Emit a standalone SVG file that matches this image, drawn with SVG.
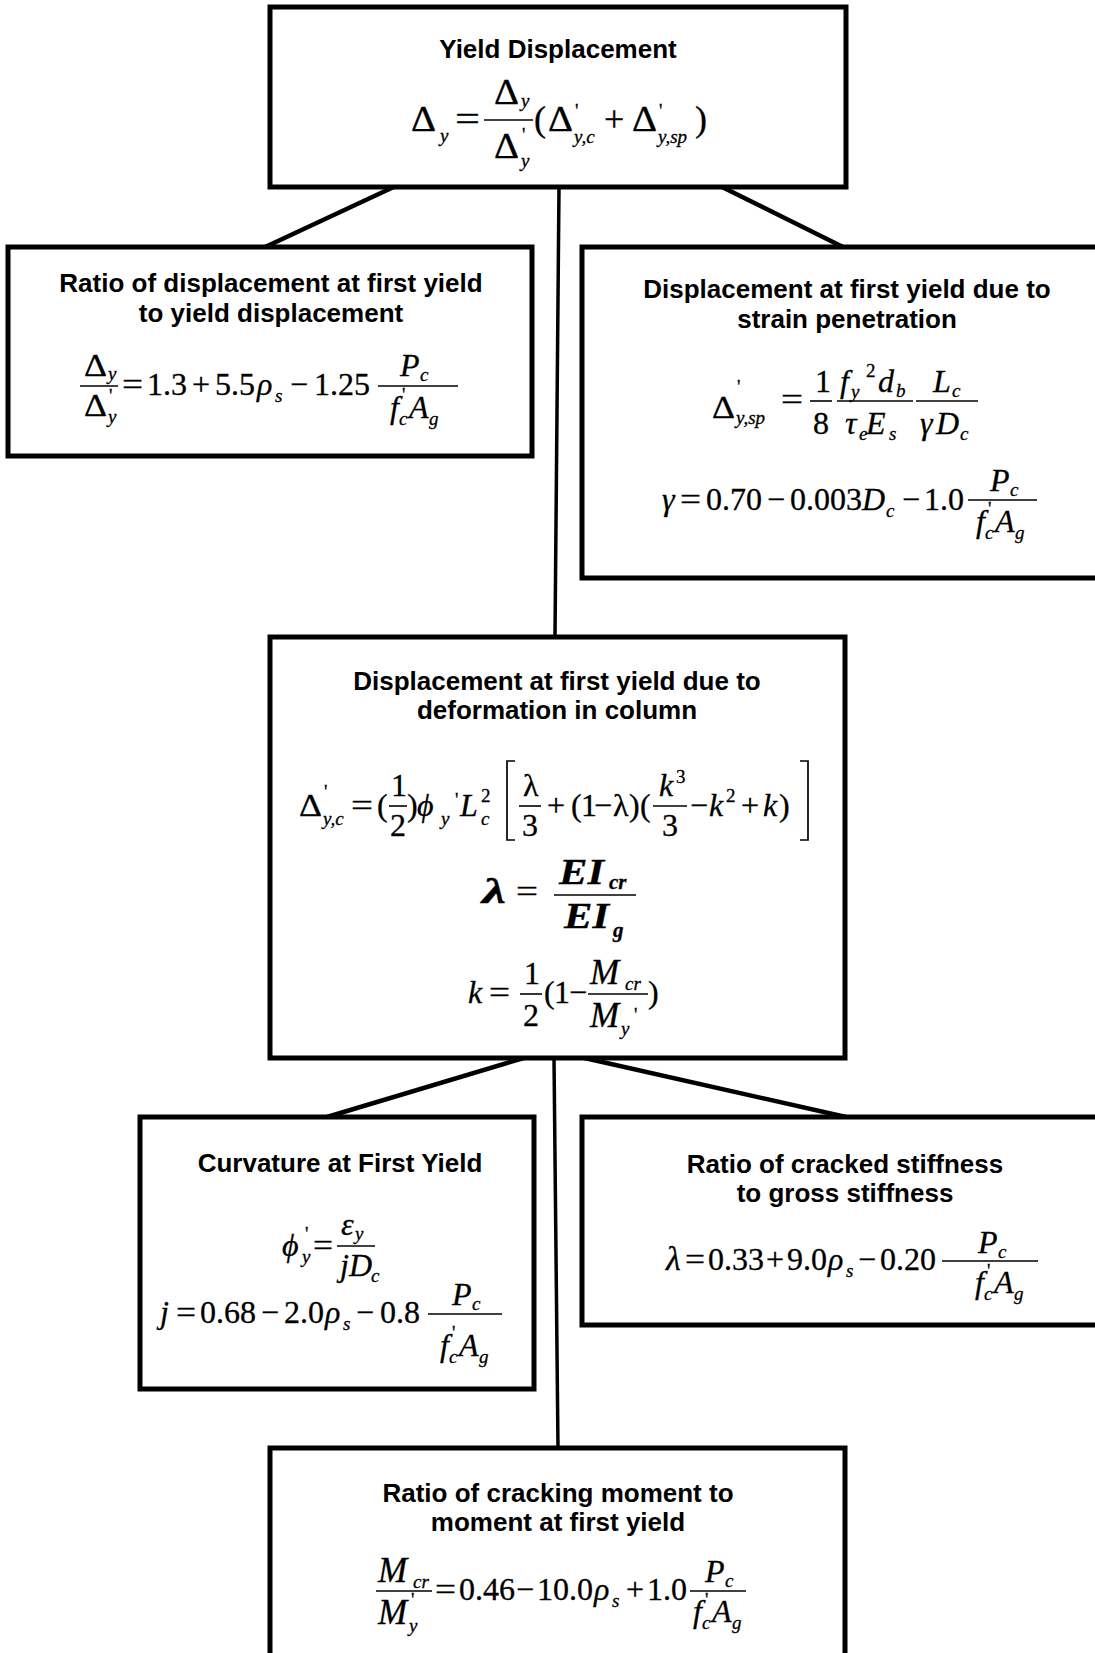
<svg xmlns="http://www.w3.org/2000/svg" width="1095" height="1653" viewBox="0 0 1095 1653">
<style>
.box{fill:#fff;stroke:#000;stroke-width:5}
.conn line{stroke:#000;stroke-width:4.5;stroke-linecap:butt}
.t{font-family:"Liberation Sans",Arial,sans-serif;font-weight:bold;font-size:26px;text-anchor:middle;fill:#000}
.m,.mi,.mb,.s,.sb,.su{font-family:"Liberation Serif","Times New Roman",serif;fill:#000;stroke:#000;stroke-width:0.3}
.m{font-size:32px}
.mi{font-size:32px;font-style:italic}
.mb{font-size:36px;font-style:italic;font-weight:bold}
.s{font-size:19px;font-style:italic}
.sb{font-size:21px;font-style:italic;font-weight:bold}
.su{font-size:19px}
.L{font-size:36px}
.M{font-size:35px}
.bar{stroke:#000;stroke-width:1.6}
.brk{fill:none;stroke:#000;stroke-width:1.7}
</style>
<rect width="1095" height="1653" fill="#fff"/>
<g id="connectors" class="conn">
<line x1="398" y1="185" x2="263" y2="248"/>
<line x1="559" y1="187" x2="555" y2="637" style="stroke-width:3.5"/>
<line x1="716" y1="184" x2="843" y2="247"/>
<line x1="527" y1="1057" x2="327" y2="1117"/>
<line x1="580" y1="1057" x2="846" y2="1117"/>
<line x1="554" y1="1058" x2="558" y2="1448" style="stroke-width:3.5"/>
</g>
<g id="n-yield-displacement">
<rect class="box" x="270" y="7" width="576" height="180"/>
<text class="t" x="558" y="58">Yield Displacement</text>
<text class="m L" x="411" y="131" textLength="25" lengthAdjust="spacingAndGlyphs">Δ</text><text class="s" x="440" y="142">y</text>
<text class="m L" x="455" y="131" textLength="25" lengthAdjust="spacingAndGlyphs">=</text>
<line class="bar" x1="484" y1="120" x2="533" y2="120"/>
<text class="m L" x="494" y="104" textLength="25" lengthAdjust="spacingAndGlyphs">Δ</text><text class="s" x="521" y="107">y</text>
<text class="m L" x="494" y="158" textLength="25" lengthAdjust="spacingAndGlyphs">Δ</text><text class="su" x="522" y="141">'</text><text class="s" x="521" y="167">y</text>
<text class="m L" x="534" y="131">(</text>
<text class="m L" x="548" y="131" textLength="25" lengthAdjust="spacingAndGlyphs">Δ</text><text class="su" x="575" y="117">'</text><text class="s" x="574" y="143">y,c</text>
<text class="m L" x="604" y="131">+</text>
<text class="m L" x="632" y="131" textLength="25" lengthAdjust="spacingAndGlyphs">Δ</text><text class="su" x="659" y="117">'</text><text class="s" x="658" y="143">y,sp</text>
<text class="m L" x="695" y="131">)</text>
</g>
<g id="n-ratio-displacement">
<rect class="box" x="8" y="247" width="524" height="209"/>
<text class="t" x="271" y="292">Ratio of displacement at first yield</text>
<text class="t" x="271" y="322">to yield displacement</text>
<line class="bar" x1="80" y1="386" x2="118" y2="386"/>
<text class="m" x="84" y="376" textLength="23" lengthAdjust="spacingAndGlyphs">Δ</text><text class="s" x="108" y="380">y</text>
<text class="m" x="84" y="416" textLength="23" lengthAdjust="spacingAndGlyphs">Δ</text><text class="su" x="109" y="402">'</text><text class="s" x="108" y="423">y</text>
<text class="m" x="122" y="395" textLength="21" lengthAdjust="spacingAndGlyphs">=</text>
<text class="m" x="147" y="395">1.3</text>
<text class="m" x="192" y="395">+</text>
<text class="m" x="215" y="395">5.5</text>
<text class="mi" x="257" y="395">ρ</text><text class="s" x="275" y="402">s</text>
<text class="m" x="290" y="395">−</text>
<text class="m" x="314" y="395">1.25</text>
<line class="bar" x1="378" y1="386" x2="458" y2="386"/>
<text class="mi" x="400" y="376">P</text><text class="s" x="420" y="381">c</text>
<text class="mi" x="390" y="418">f</text><text class="su" x="402" y="401">'</text><text class="s" x="399" y="425">c</text><text class="mi" x="409" y="418">A</text><text class="s" x="429" y="425">g</text>
</g>
<g id="n-strain-penetration">
<rect class="box" x="582" y="247" width="540" height="331"/>
<text class="t" x="847" y="298">Displacement at first yield due to</text>
<text class="t" x="847" y="328">strain penetration</text>
<text class="m" x="712" y="418" textLength="23" lengthAdjust="spacingAndGlyphs">Δ</text><text class="su" x="737" y="393">'</text><text class="s" x="736" y="424">y,sp</text>
<text class="m" x="781" y="410" textLength="22" lengthAdjust="spacingAndGlyphs">=</text>
<line class="bar" x1="810" y1="401" x2="832" y2="401"/>
<text class="m" x="815" y="392">1</text>
<text class="m" x="813" y="434">8</text>
<line class="bar" x1="837" y1="401" x2="913" y2="401"/>
<text class="mi" x="840" y="392">f</text><text class="s" x="851" y="398">y</text><text class="su" x="866" y="377">2</text><text class="mi" x="878" y="392">d</text><text class="s" x="896" y="397">b</text>
<text class="mi" x="845" y="434">τ</text><text class="s" x="859" y="440">e</text><text class="mi" x="866" y="434">E</text><text class="s" x="889" y="440">s</text>
<line class="bar" x1="916" y1="401" x2="978" y2="401"/>
<text class="mi" x="933" y="392">L</text><text class="s" x="952" y="397">c</text>
<text class="mi" x="920" y="434">γ</text><text class="mi" x="936" y="434">D</text><text class="s" x="960" y="440">c</text>
<text class="mi" x="662" y="510">γ</text>
<text class="m" x="680" y="510" textLength="21" lengthAdjust="spacingAndGlyphs">=</text>
<text class="m" x="706" y="510">0.70</text>
<text class="m" x="767" y="510">−</text>
<text class="m" x="790" y="510">0.003</text>
<text class="mi" x="862" y="510">D</text><text class="s" x="886" y="517">c</text>
<text class="m" x="902" y="510">−</text>
<text class="m" x="924" y="510">1.0</text>
<line class="bar" x1="968" y1="500" x2="1037" y2="500"/>
<text class="mi" x="990" y="491">P</text><text class="s" x="1010" y="496">c</text>
<text class="mi" x="976" y="532">f</text><text class="su" x="988" y="515">'</text><text class="s" x="985" y="539">c</text><text class="mi" x="995" y="532">A</text><text class="s" x="1015" y="539">g</text>
</g>
<g id="n-deformation-column">
<rect class="box" x="270" y="637" width="575" height="421"/>
<text class="t" x="557" y="690">Displacement at first yield due to</text>
<text class="t" x="557" y="719">deformation in column</text>
<text class="m" x="299" y="816" textLength="23" lengthAdjust="spacingAndGlyphs">Δ</text><text class="su" x="324" y="798">'</text><text class="s" x="323" y="825">y,c</text>
<text class="m" x="351" y="816" textLength="22" lengthAdjust="spacingAndGlyphs">=</text>
<text class="m" x="377" y="816">(</text>
<line class="bar" x1="389" y1="806" x2="407" y2="806"/>
<text class="m" x="391" y="796">1</text>
<text class="m" x="390" y="836">2</text>
<text class="m" x="407" y="816">)</text>
<text class="mi" x="417" y="816">ϕ</text><text class="s" x="441" y="825">y</text>
<text class="su" x="455" y="806">'</text>
<text class="mi" x="460" y="816">L</text><text class="su" x="481" y="802">2</text><text class="s" x="481" y="825">c</text>
<path class="brk" d="M515 761 H507 V840 H515"/>
<line class="bar" x1="519" y1="806" x2="541" y2="806"/>
<text class="m" x="523" y="796">λ</text>
<text class="m" x="522" y="836">3</text>
<text class="m" x="547" y="816">+</text>
<text class="m" x="571" y="816">(</text>
<text class="m" x="581" y="816">1</text>
<text class="m" x="594" y="816">−</text>
<text class="m" x="613" y="816">λ</text>
<text class="m" x="629" y="816">)</text>
<text class="m" x="640" y="816">(</text>
<line class="bar" x1="653" y1="806" x2="687" y2="806"/>
<text class="mi" x="659" y="796">k</text><text class="su" x="676" y="783">3</text>
<text class="m" x="662" y="836">3</text>
<text class="m" x="690" y="816">−</text>
<text class="mi" x="709" y="816">k</text><text class="su" x="726" y="802">2</text>
<text class="m" x="741" y="816">+</text>
<text class="mi" x="763" y="816">k</text>
<text class="m" x="779" y="816">)</text>
<path class="brk" d="M800 761 H808 V840 H800"/>
<text class="mb" x="482" y="903" textLength="24" lengthAdjust="spacingAndGlyphs">λ</text>
<text class="m" x="516" y="902" textLength="22" lengthAdjust="spacingAndGlyphs">=</text>
<line class="bar" x1="554" y1="895" x2="636" y2="895"/>
<text class="mb" x="559" y="884" textLength="45" lengthAdjust="spacingAndGlyphs">EI</text><text class="sb" x="609" y="889">cr</text>
<text class="mb" x="564" y="928" textLength="45" lengthAdjust="spacingAndGlyphs">EI</text><text class="sb" x="613" y="937">g</text>
<text class="mi" x="468" y="1003">k</text>
<text class="m" x="489" y="1003" textLength="21" lengthAdjust="spacingAndGlyphs">=</text>
<line class="bar" x1="520" y1="994" x2="542" y2="994"/>
<text class="m" x="524" y="984">1</text>
<text class="m" x="523" y="1026">2</text>
<text class="m" x="544" y="1003">(</text>
<text class="m" x="554" y="1003">1</text>
<text class="m" x="569" y="1003">−</text>
<line class="bar" x1="588" y1="994" x2="648" y2="994"/>
<text class="mi M" x="590" y="984">M</text><text class="s" x="625" y="990">cr</text>
<text class="mi M" x="590" y="1027">M</text><text class="s" x="621" y="1035">y</text><text class="su" x="634" y="1021">'</text>
<text class="m" x="648" y="1003">)</text>
</g>
<g id="n-curvature">
<rect class="box" x="140" y="1117" width="394" height="272"/>
<text class="t" x="340" y="1172">Curvature at First Yield</text>
<text class="mi" x="282" y="1256">ϕ</text><text class="su" x="305" y="1240">'</text><text class="s" x="302" y="1263">y</text>
<text class="m" x="313" y="1256" textLength="20" lengthAdjust="spacingAndGlyphs">=</text>
<line class="bar" x1="337" y1="1246" x2="375" y2="1246"/>
<text class="mi" x="341" y="1235">ε</text><text class="s" x="355" y="1240">y</text>
<text class="mi" x="340" y="1276">j</text><text class="mi" x="349" y="1276">D</text><text class="s" x="371" y="1282">c</text>
<text class="mi" x="160" y="1323">j</text>
<text class="m" x="176" y="1323" textLength="20" lengthAdjust="spacingAndGlyphs">=</text>
<text class="m" x="200" y="1323">0.68</text>
<text class="m" x="261" y="1323">−</text>
<text class="m" x="284" y="1323">2.0</text>
<text class="mi" x="325" y="1323">ρ</text><text class="s" x="343" y="1330">s</text>
<text class="m" x="356" y="1323">−</text>
<text class="m" x="380" y="1323">0.8</text>
<line class="bar" x1="428" y1="1314" x2="502" y2="1314"/>
<text class="mi" x="452" y="1305">P</text><text class="s" x="472" y="1310">c</text>
<text class="mi" x="440" y="1356">f</text><text class="su" x="452" y="1339">'</text><text class="s" x="449" y="1363">c</text><text class="mi" x="459" y="1356">A</text><text class="s" x="479" y="1363">g</text>
</g>
<g id="n-cracked-stiffness">
<rect class="box" x="582" y="1117" width="540" height="208"/>
<text class="t" x="845" y="1173">Ratio of cracked stiffness</text>
<text class="t" x="845" y="1202">to gross stiffness</text>
<text class="mi" x="666" y="1270" style="font-size:34px">λ</text>
<text class="m" x="685" y="1270" textLength="20" lengthAdjust="spacingAndGlyphs">=</text>
<text class="m" x="708" y="1270">0.33</text>
<text class="m" x="766" y="1270">+</text>
<text class="m" x="787" y="1270">9.0</text>
<text class="mi" x="828" y="1270">ρ</text><text class="s" x="846" y="1277">s</text>
<text class="m" x="858" y="1270">−</text>
<text class="m" x="880" y="1270">0.20</text>
<line class="bar" x1="942" y1="1261" x2="1038" y2="1261"/>
<text class="mi" x="978" y="1253">P</text><text class="s" x="998" y="1258">c</text>
<text class="mi" x="975" y="1293">f</text><text class="su" x="987" y="1277">'</text><text class="s" x="984" y="1300">c</text><text class="mi" x="994" y="1293">A</text><text class="s" x="1014" y="1300">g</text>
</g>
<g id="n-cracking-moment">
<rect class="box" x="270" y="1448" width="575" height="240"/>
<text class="t" x="558" y="1502">Ratio of cracking moment to</text>
<text class="t" x="558" y="1531">moment at first yield</text>
<line class="bar" x1="376" y1="1591" x2="432" y2="1591"/>
<text class="mi M" x="378" y="1582">M</text><text class="s" x="413" y="1588">cr</text>
<text class="mi M" x="378" y="1624">M</text><text class="su" x="411" y="1606">'</text><text class="s" x="409" y="1632">y</text>
<text class="m" x="435" y="1600" textLength="21" lengthAdjust="spacingAndGlyphs">=</text>
<text class="m" x="459" y="1600">0.46</text>
<text class="m" x="516" y="1600">−</text>
<text class="m" x="537" y="1600">10.0</text>
<text class="mi" x="594" y="1600">ρ</text><text class="s" x="612" y="1607">s</text>
<text class="m" x="626" y="1600">+</text>
<text class="m" x="647" y="1600">1.0</text>
<line class="bar" x1="690" y1="1591" x2="746" y2="1591"/>
<text class="mi" x="705" y="1582">P</text><text class="s" x="725" y="1587">c</text>
<text class="mi" x="693" y="1622">f</text><text class="su" x="705" y="1606">'</text><text class="s" x="702" y="1629">c</text><text class="mi" x="712" y="1622">A</text><text class="s" x="732" y="1629">g</text>
</g>
</svg>
